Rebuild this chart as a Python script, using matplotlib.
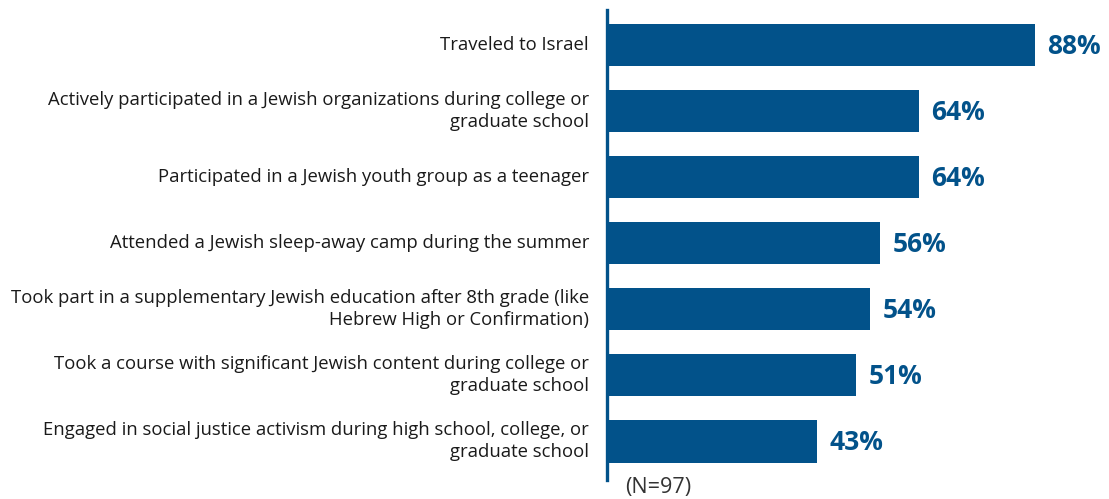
import matplotlib
matplotlib.use("Agg")
import matplotlib.pyplot as plt

categories = [
    "Traveled to Israel",
    "Actively participated in a Jewish organizations during college or\ngraduate school",
    "Participated in a Jewish youth group as a teenager",
    "Attended a Jewish sleep-away camp during the summer",
    "Took part in a supplementary Jewish education after 8th grade (like\nHebrew High or Confirmation)",
    "Took a course with significant Jewish content during college or\ngraduate school",
    "Engaged in social justice activism during high school, college, or\ngraduate school",
]
values = [88, 64, 64, 56, 54, 51, 43]
note = "(N=97)"

BLUE = "#02528A"
plt.rcParams['font.family'] = ['Open Sans', 'DejaVu Sans']

W, H = 1109, 499
fig = plt.figure(figsize=(W / 100, H / 100), dpi=100)
left_px, right_px, top_px, bot_px = 609, 1093, 10, 480
ax = fig.add_axes([left_px / W, 1 - bot_px / H, (right_px - left_px) / W, (bot_px - top_px) / H])

ypos = list(range(len(values)))
ax.barh(ypos, values, height=0.65, color=BLUE, edgecolor='none')
ax.set_xlim(0, 100)
ax.set_ylim(6.59, -0.53)

for y, v in zip(ypos, values):
    ax.text(v + 2.6, y + 0.02, f"{v}%", va='center', ha='left', fontsize=19,
            fontweight='bold', color=BLUE)

ax.set_yticks(ypos)
ax.set_yticklabels([])
ax.tick_params(axis='y', length=0)
ax.tick_params(axis='x', bottom=False, labelbottom=False)
trans = ax.get_yaxis_transform()
xlab = -(left_px - 589) / (right_px - left_px)
for y, lab in zip(ypos, categories):
    ax.text(xlab, y, lab, transform=trans, ha='right', va='center',
            multialignment='right', fontsize=13.3, color='#1a1a1a',
            linespacing=1.3)

for s in ['top', 'right', 'bottom']:
    ax.spines[s].set_visible(False)
ax.spines['left'].set_color(BLUE)
ax.spines['left'].set_linewidth(2.4)
ax.spines['left'].set_position(('outward', 1.5))

fig.text(625 / W, 1 - 488 / H, note, fontsize=15.5, color='#333333', va='center', ha='left')

fig.savefig("out.png", dpi=100)
